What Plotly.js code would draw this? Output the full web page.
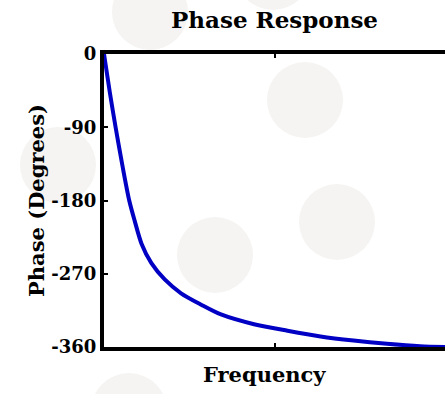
<!DOCTYPE html>
<html>
<head>
<meta charset="utf-8">
<script src="https://cdn.plot.ly/plotly-3.0.1.min.js"></script>
<style>
  html, body { margin: 0; padding: 0; background: #ffffff; overflow: hidden; }
  #wrap { position: relative; width: 445px; height: 394px; }
  .dot { position: absolute; width: 76px; height: 76px; border-radius: 50%; background: #f5f4f2; }
  #chart { position: absolute; left: 0; top: 0; width: 445px; height: 394px; }
</style>
</head>
<body>
<div id="wrap">
  <div class="dot" style="left:112px; top:-26px;"></div>
  <div class="dot" style="left:235px; top:-66px;"></div>
  <div class="dot" style="left:267px; top:62px;"></div>
  <div class="dot" style="left:20px; top:127px;"></div>
  <div class="dot" style="left:177px; top:217px;"></div>
  <div class="dot" style="left:299px; top:184px;"></div>
  <div class="dot" style="left:91px; top:373px;"></div>
  <div id="chart"></div>
</div>
<script>
// Normalised frequency (0..1 across the plot) and phase in degrees
const frequency = [0, 0.017, 0.034, 0.054, 0.074, 0.090, 0.110, 0.139, 0.178, 0.226, 0.285, 0.343, 0.440, 0.538, 0.635, 0.732, 0.830, 0.927, 1.0];
const phase     = [0, -47, -90, -137, -180, -205, -233, -257, -277, -294, -308, -320, -332, -340, -347, -352, -356, -359, -360];
const yTickVals = [0, -90, -180, -270, -360];
const yTickText = ['0', '-90', '-180', '-270', '-360'];
const xTickVals = [0, 0.5, 1];

const fontFamily = 'DejaVu Serif, serif';

const trace = {
  x: frequency,
  y: phase,
  type: 'scatter',
  mode: 'lines',
  line: { color: '#0000c4', width: 4, shape: 'spline', smoothing: 0.8 },
  cliponaxis: false,
  hoverinfo: 'skip'
};

const layout = {
  width: 445,
  height: 394,
  margin: { l: 104, r: 0, t: 54, b: 47 },
  paper_bgcolor: 'rgba(0,0,0,0)',
  plot_bgcolor: 'rgba(0,0,0,0)',
  showlegend: false,
  title: {
    text: 'Phase Response',
    font: { family: fontFamily, size: 23, color: '#000', weight: 700 },
    x: 0.5, xref: 'paper', xanchor: 'center',
    y: 1 - 20 / 394, yref: 'container', yanchor: 'middle'
  },
  annotations: [{
    text: 'Frequency',
    xref: 'paper', yref: 'paper',
    x: 0.47, y: -0.095,
    xanchor: 'center', yanchor: 'middle',
    showarrow: false,
    font: { family: fontFamily, size: 21, color: '#000', weight: 700 }
  }],
  xaxis: {
    range: [0, 1],
    tickvals: xTickVals,
    showticklabels: false,
    ticks: 'inside',
    ticklen: 4,
    tickwidth: 2,
    tickcolor: '#000',
    showline: true,
    linecolor: '#000',
    linewidth: 4,
    mirror: 'ticks',
    showgrid: false,
    zeroline: false,
    layer: 'below traces'
  },
  yaxis: {
    range: [-360, 0],
    tickvals: yTickVals,
    ticktext: yTickText,
    ticks: 'inside',
    ticklen: 4,
    tickwidth: 2,
    tickcolor: '#000',
    tickfont: { family: fontFamily, size: 18, color: '#000', weight: 700 },
    showline: true,
    linecolor: '#000',
    linewidth: 4,
    mirror: false,
    showgrid: false,
    zeroline: false,
    layer: 'below traces',
    title: { text: 'Phase (Degrees)', font: { family: fontFamily, size: 21, color: '#000', weight: 700 } }
  }
};

Plotly.newPlot('chart', [trace], layout, { displayModeBar: false, staticPlot: true });
</script>
</body>
</html>
